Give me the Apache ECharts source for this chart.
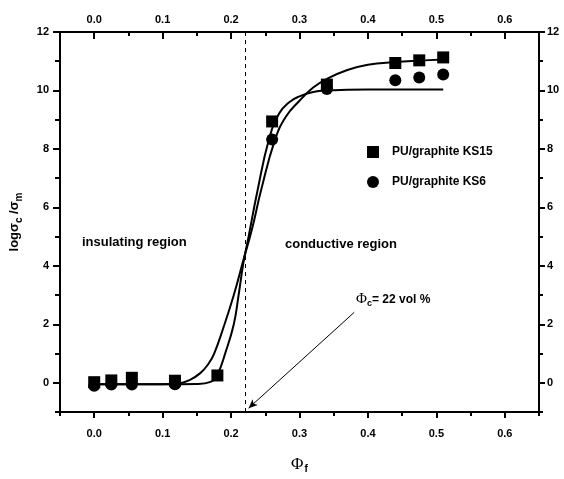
<!DOCTYPE html>
<html>
<head>
<meta charset="utf-8">
<script src="https://cdn.jsdelivr.net/npm/echarts@6/dist/echarts.min.js"></script>
<style>html,body{margin:0;padding:0;background:#fff}#c{width:564px;height:479px}</style>
</head>
<body>
<div id="c"></div>
<script>
// ---- data ----
var xMajor = [0, 0.1, 0.2, 0.3, 0.4, 0.5, 0.6];
var xMinor = [-0.05, 0.05, 0.15, 0.25, 0.35, 0.45, 0.55, 0.65];
var yMajor = [0, 2, 4, 6, 8, 10, 12];
var yMinor = [-1, 1, 3, 5, 7, 9, 11];

var ks15X = [0, 0.025, 0.055, 0.118, 0.18, 0.26, 0.34, 0.44, 0.475, 0.51];
var ks15Y = [0.02, 0.08, 0.17, 0.07, 0.25, 8.94, 10.2, 10.94, 11.03, 11.13];
var ks6X = [0, 0.025, 0.055, 0.118, 0.26, 0.34, 0.44, 0.475, 0.51];
var ks6Y = [-0.1, -0.06, -0.06, -0.05, 8.32, 10.05, 10.35, 10.44, 10.55];

// fitted curves
var fitGX = [0, 0.1, 0.125, 0.14, 0.155, 0.167, 0.175, 0.189, 0.204, 0.218, 0.2305, 0.244, 0.264, 0.28, 0.30, 0.32, 0.34, 0.37, 0.40, 0.44, 0.475, 0.51];
var fitGY = [-0.05, -0.05, -0.02, 0.1, 0.33, 0.65, 0.98, 1.9, 3.0, 4.2, 5.25, 6.6, 8.3, 9.1, 9.65, 10.1, 10.4, 10.7, 10.88, 10.97, 11.02, 11.06];
var fitSX = [0, 0.1, 0.15, 0.17, 0.18, 0.192, 0.204, 0.211, 0.218, 0.2256, 0.238, 0.255, 0.27, 0.285, 0.30, 0.32, 0.34, 0.40, 0.51];
var fitSY = [-0.05, -0.05, -0.04, 0.03, 0.28, 1.05, 2.0, 3.0, 4.1, 5.0, 6.5, 8.3, 9.2, 9.6, 9.8, 9.95, 10.0, 10.03, 10.03];

var phiC = 0.218;
var arrowFrom = [0.38, 2.41];
var arrowTo = [0.2256, -0.87];

var names = ['PU/graphite KS15', 'PU/graphite KS6'];

function zip(a, b) { return a.map(function (v, i) { return [v, b[i]]; }); }

var FONT = 'Liberation Sans, Arial, sans-serif';
var SERIF = 'Liberation Serif, Times New Roman, serif';
var lbl = { fontFamily: FONT, fontWeight: 'bold', fontSize: 11, color: '#000' };

function xAx(pos, vals, len, inside, labels) {
  return {
    type: 'value', position: pos, min: -0.05, max: 0.65,
    axisLine: { show: true, onZero: false, lineStyle: { color: '#000', width: 2 } },
    axisTick: { show: true, inside: inside, length: len, lineStyle: { color: '#000', width: 2 }, customValues: vals },
    axisLabel: labels ? Object.assign({ show: true, customValues: vals, margin: pos === 'bottom' ? 16 : 7,
      formatter: function (v) { return v.toFixed(1); } }, lbl) : { show: false },
    splitLine: { show: false }
  };
}
function yAx(pos, vals, len, labels) {
  return {
    type: 'value', position: pos, min: -1, max: 12,
    axisLine: { show: true, onZero: false, lineStyle: { color: '#000', width: 2 } },
    axisTick: { show: true, inside: false, length: len, lineStyle: { color: '#000', width: 2 }, customValues: vals },
    axisLabel: labels ? Object.assign({ show: true, customValues: vals, margin: pos === 'left' ? 11 : 8,
      formatter: function (v) { return String(v); } }, lbl) : { show: false },
    splitLine: { show: false }
  };
}

var xAxes = [
  xAx('bottom', xMajor, 6, false, true),
  xAx('bottom', xMinor, 4, false, false),
  xAx('top', xMajor, 7, true, true),
  xAx('top', xMinor, 4, true, false)
];
xAxes[0].name = '{p|Φ}{s|f}';
xAxes[0].nameLocation = 'middle';
xAxes[0].nameGap = 43;
xAxes[0].nameTextStyle = {
  rich: {
    p: { fontFamily: SERIF, fontSize: 17, color: '#000' },
    s: { fontFamily: FONT, fontWeight: 'bold', fontSize: 10, color: '#000', padding: [9, 0, 0, 1] }
  }
};

var yAxes = [
  yAx('left', yMajor, 7, true),
  yAx('left', yMinor, 5, false),
  yAx('right', yMajor, 6, true),
  yAx('right', yMinor, 4, false)
];
yAxes[0].name = '{a|logσ}{s|c}{a| /σ}{s|m}';
yAxes[0].nameLocation = 'middle';
yAxes[0].nameRotate = 90;
yAxes[0].nameGap = 36;
yAxes[0].nameTextStyle = {
  rich: {
    a: { fontFamily: FONT, fontWeight: 'bold', fontSize: 13, color: '#000' },
    s: { fontFamily: FONT, fontWeight: 'bold', fontSize: 10, color: '#000', padding: [9, 0, 0, 0] }
  }
};

var chart = echarts.init(document.getElementById('c'), null, { renderer: 'canvas' });
chart.setOption({
  animation: false,
  backgroundColor: '#fff',
  grid: { left: 58, right: 25, top: 32, bottom: 59, containLabel: false },
  xAxis: xAxes,
  yAxis: yAxes,
  legend: {
    orient: 'vertical', left: 362, top: 141,
    itemWidth: 12, itemHeight: 12, itemGap: 18,
    itemStyle: { opacity: 1 },
    textStyle: { fontFamily: FONT, fontWeight: 'bold', fontSize: 12, color: '#000', padding: [0, 0, 0, 8] },
    data: [{ name: names[0], icon: 'rect' }, { name: names[1], icon: 'circle' }]
  },
  graphic: [
    { type: 'text', left: 82, top: 236, style: { text: 'insulating region', font: 'bold 13px ' + FONT, fill: '#000' } },
    { type: 'text', left: 285, top: 238, style: { text: 'conductive region', font: 'bold 13px ' + FONT, fill: '#000' } },
    { type: 'text', left: 356, top: 292, style: {
        text: '{p|Φ}{s|c}{t|= 22 vol %}',
        rich: {
          p: { fontFamily: SERIF, fontSize: 15, fill: '#000' },
          s: { fontFamily: FONT, fontWeight: 'bold', fontSize: 9, fill: '#000', padding: [8, 0, 0, 0] },
          t: { fontFamily: FONT, fontWeight: 'bold', fontSize: 12, fill: '#000' }
        } } }
  ],
  series: [
    {
      type: 'line', name: 'fitG', data: zip(fitGX, fitGY), showSymbol: false, symbol: 'none',
      smooth: 0.45, lineStyle: { color: '#000', width: 2 }, z: 2,
      markLine: {
        silent: true, symbol: 'none', label: { show: false },
        lineStyle: { color: '#000', width: 1, type: [4, 4] },
        data: [{ xAxis: phiC }]
      }
    },
    {
      type: 'line', name: 'fitS', data: zip(fitSX, fitSY), showSymbol: false, symbol: 'none',
      smooth: 0.45, lineStyle: { color: '#000', width: 2 }, z: 2,
      markLine: {
        silent: true, symbol: ['none', 'arrow'], symbolSize: [6, 9], label: { show: false },
        lineStyle: { color: '#000', width: 1, type: 'solid' },
        data: [[{ coord: arrowFrom }, { coord: arrowTo }]]
      }
    },
    {
      type: 'scatter', name: names[0], data: zip(ks15X, ks15Y), symbol: 'rect', symbolSize: 12,
      itemStyle: { color: '#000', opacity: 1 }, z: 3
    },
    {
      type: 'scatter', name: names[1], data: zip(ks6X, ks6Y), symbol: 'circle', symbolSize: 12,
      itemStyle: { color: '#000', opacity: 1 }, z: 3
    }
  ]
});
</script>
</body>
</html>
